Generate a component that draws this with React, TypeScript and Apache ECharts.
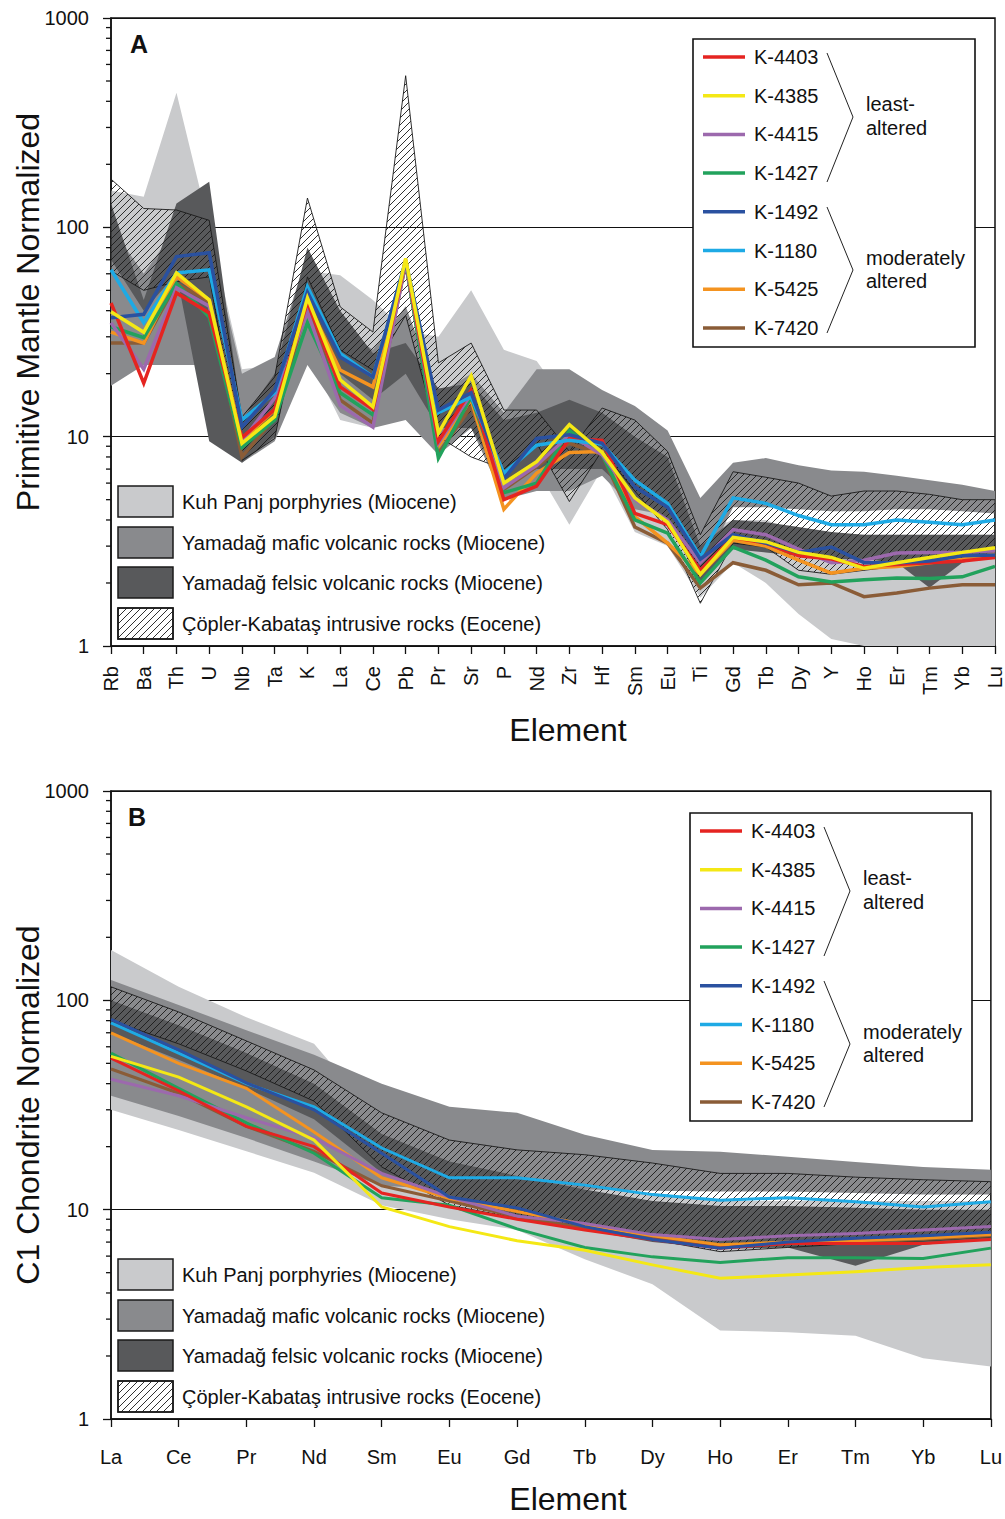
import React, { useEffect, useRef } from 'react';
import * as echarts from 'echarts';

const FONT = "'Liberation Sans', Arial, Helvetica, sans-serif";

// Element orders for the two diagrams
const spiderElements = ['Rb', 'Ba', 'Th', 'U', 'Nb', 'Ta', 'K', 'La', 'Ce', 'Pb', 'Pr', 'Sr', 'P', 'Nd', 'Zr', 'Hf', 'Sm', 'Eu', 'Ti', 'Gd', 'Tb', 'Dy', 'Y', 'Ho', 'Er', 'Tm', 'Yb', 'Lu'];
const reeElements = ['La', 'Ce', 'Pr', 'Nd', 'Sm', 'Eu', 'Gd', 'Tb', 'Dy', 'Ho', 'Er', 'Tm', 'Yb', 'Lu'];

const yTickLabels = ['1', '10', '100', '1000'];
const minorTickValues = [2, 3, 4, 5, 6, 7, 8, 9, 20, 30, 40, 50, 60, 70, 80, 90, 200, 300, 400, 500, 600, 700, 800, 900];

const samples = ['K-4403', 'K-4385', 'K-4415', 'K-1427', 'K-1492', 'K-1180', 'K-5425', 'K-7420'];
const sampleColors = ['#e52421', '#f4e815', '#9c69ad', '#22a25c', '#2a51a0', '#1eaae5', '#f49320', '#8a5c37'];
// later entries are drawn on top
const drawOrder = ['K-7420', 'K-5425', 'K-1427', 'K-4415', 'K-4403', 'K-1180', 'K-1492', 'K-4385'];

// Primitive-mantle normalized samples (A)
const pmK4403 = [43.5, 18, 48.6, 39, 9.9, 13.5, 44, 17.3, 13.5, 70, 9.5, 16.7, 5.0, 5.8, 9.8, 9.6, 4.3, 3.8, 2.3, 3.3, 3.1, 2.7, 2.6, 2.4, 2.45, 2.5, 2.55, 2.65];
const pmK4385 = [39.5, 31.5, 60.5, 45, 9.3, 12.5, 46, 18.7, 13.9, 71, 10.4, 19.5, 6.0, 7.6, 11.4, 8.4, 5.1, 3.9, 2.2, 3.3, 3.15, 2.8, 2.65, 2.35, 2.5, 2.65, 2.8, 2.95];
const pmK4415 = [35, 21, 51.5, 42, 9.5, 15.3, 39.5, 14.1, 11.1, 68, 9.3, 16, 5.7, 7.3, 10.2, 8.2, 5.0, 4.0, 2.5, 3.6, 3.4, 2.9, 2.5, 2.57, 2.78, 2.8, 2.8, 2.85];
const pmK1427 = [33.5, 29.7, 54, 37.3, 8.9, 12, 35, 16.2, 12.7, 68, 7.9, 15.5, 5.4, 6.0, 10.7, 8.2, 4.0, 3.46, 2.0, 2.97, 2.57, 2.14, 2.02, 2.07, 2.11, 2.1, 2.14, 2.4];
const pmK1492 = [37, 38.4, 72.5, 75.6, 11.1, 16.7, 49, 24, 19.3, 69, 13.4, 16.2, 6.3, 9.8, 10.2, 9.3, 5.75, 4.6, 2.6, 3.4, 3.1, 2.8, 2.97, 2.5, 2.5, 2.55, 2.7, 2.72];
const pmK1180 = [62.7, 35, 60.5, 62.7, 12, 16.2, 52, 25, 19.3, 69, 13, 15.5, 6.7, 9.1, 9.6, 9.2, 6.2, 4.8, 2.67, 5.1, 4.8, 4.2, 3.8, 3.8, 4.0, 3.9, 3.8, 4.0];
const pmK5425 = [31.6, 28, 58, 45, 9.6, 13.4, 44, 20.8, 17.3, 69, 9.0, 15, 4.5, 6.7, 8.4, 8.5, 4.15, 3.1, 2.2, 3.2, 3.0, 2.57, 2.23, 2.35, 2.4, 2.5, 2.6, 2.75];
const pmK7420 = [28, 28, 54, 44, 8.0, 12.3, 41.7, 15, 11.6, 67, 8.3, 13.9, 5.6, 7.2, 9.3, 8.2, 3.7, 3.1, 1.89, 2.5, 2.3, 1.96, 2.0, 1.72, 1.79, 1.89, 1.96, 1.96];

// Chondrite normalized samples (B)
const c1K4403 = [53, 37, 25, 20, 12, 10.3, 9.0, 8.0, 7.2, 6.55, 6.9, 6.9, 6.9, 7.2];
const c1K4385 = [54, 43, 31, 21.5, 10.3, 8.3, 7.1, 6.4, 5.45, 4.7, 4.87, 5.05, 5.3, 5.45];
const c1K4415 = [42, 35, 27.5, 22, 14.9, 11.5, 9.3, 8.6, 7.6, 7.2, 7.5, 7.7, 8.0, 8.3];
const c1K1427 = [56, 38, 26, 18.6, 11.4, 10.5, 8.1, 6.6, 5.95, 5.6, 5.9, 5.9, 5.85, 6.55];
const c1K1492 = [81, 58, 40.3, 30, 18.6, 11.5, 10.2, 8.3, 7.2, 6.55, 7.0, 7.3, 7.5, 7.8];
const c1K1180 = [78, 56, 40, 31, 19.7, 14.2, 14.2, 13.1, 11.8, 11.1, 11.4, 10.9, 10.3, 10.9];
const c1K5425 = [70, 50, 38, 23.5, 14.2, 11.3, 9.8, 8.5, 7.5, 6.8, 7.0, 7.1, 7.3, 7.6];
const c1K7420 = [47, 36, 25, 19, 13, 11, 9.2, 8.2, 7.3, 6.7, 6.9, 7.0, 7.2, 7.5];

// Comparison fields, primitive-mantle normalized (A)
const pmKuhPanjUpper = [150, 140, 440, 100, 21, 22, 62, 59, 45, 32, 30, 50, 26, 23, 14, 13, 10, 8, 3.5, 4.0, 4.0, 3.5, 3.3, 3.4, 3.4, 3.4, 3.4, 3.4];
const pmKuhPanjLower = [25, 22, 25, 25, 8, 10, 25, 12, 11, 15, 9, 12, 5.5, 7, 3.8, 7, 3.5, 3.0, 1.7, 2.5, 2.0, 1.42, 1.08, 1.0, 1.0, 1.0, 1.0, 1.0];
const pmMaficUpper = [100, 60, 100, 90, 20, 24, 75, 33, 26, 42, 16, 20, 13, 21, 21, 16.7, 14, 10.7, 5.1, 7.5, 7.9, 7.3, 6.9, 6.8, 6.5, 6.2, 5.9, 5.5];
const pmMaficLower = [17.5, 22, 22, 22, 7.5, 9.5, 22, 13, 11, 12, 8.2, 11, 5.0, 5.5, 5.5, 6.5, 4.5, 4.2, 2.2, 4.6, 4.6, 4.5, 4.4, 4.4, 4.5, 4.5, 4.4, 4.3];
const pmFelsicUpper = [130, 45, 130, 165, 12, 20, 80, 40, 25, 28, 17, 18, 12, 13, 15, 13, 10, 8, 3.0, 4.0, 3.9, 3.7, 3.5, 3.4, 3.4, 3.4, 3.4, 3.4];
const pmFelsicLower = [70, 40, 60, 9.5, 7.5, 10, 45, 20, 15, 20, 11, 11, 6, 7, 7, 7, 5, 4, 2.0, 2.9, 2.8, 2.7, 2.6, 2.6, 2.5, 1.9, 2.5, 2.7];
const pmCoplerUpper = [170, 123, 121, 108, 12.4, 19.3, 138, 41.7, 31.6, 530, 22.5, 28, 13.4, 13.4, 8.5, 13.7, 12, 8.5, 3.4, 6.8, 6.4, 6.0, 5.2, 5.5, 5.5, 5.3, 5.0, 5.0];
const pmCoplerLower = [62, 50, 55, 58, 7.7, 9.8, 58, 26, 20.8, 38, 10, 8, 7, 9.3, 4.9, 8.6, 5.5, 3.6, 1.6, 3.1, 2.97, 2.3, 2.2, 2.3, 2.4, 2.5, 2.57, 2.66];

// Comparison fields, chondrite normalized (B)
const c1KuhPanjUpper = [174, 116, 83, 62, 26, 18, 15, 13, 12, 11, 11, 11, 11, 11];
const c1KuhPanjLower = [30, 24, 19, 15, 10.5, 9, 8, 5.8, 4.4, 2.65, 2.6, 2.5, 1.95, 1.78];
const c1MaficUpper = [125, 95, 72, 55, 40, 31, 29, 22.8, 19.3, 18.9, 17.9, 16.9, 16.0, 15.5];
const c1MaficLower = [35, 28, 22, 17, 13, 12.5, 12.5, 12.5, 12.3, 12.2, 12.2, 12, 11.8, 11.8];
const c1FelsicUpper = [100, 76, 56, 40, 23, 17, 14.5, 12.5, 11.0, 10.4, 10.4, 10.2, 10.0, 10.0];
const c1FelsicLower = [70, 52, 38, 27, 15, 11, 9.2, 8.0, 7.0, 6.5, 6.6, 5.4, 6.8, 7.2];
const c1CoplerUpper = [116, 88, 64, 46.5, 29, 21.5, 19.3, 18.3, 16.7, 14.9, 14.9, 14.3, 13.9, 13.6];
const c1CoplerLower = [80, 62, 46, 33, 16, 10.5, 9.1, 8.3, 7.2, 6.3, 6.6, 6.9, 7.1, 7.4];

const groupNames = [
  'Kuh Panj porphyries (Miocene)',
  'Yamadağ mafic volcanic rocks (Miocene)',
  'Yamadağ felsic volcanic rocks (Miocene)',
  'Çöpler-Kabataş intrusive rocks (Eocene)',
];

const pmSeries: Record<string, number[]> = {
  'K-4403': pmK4403, 'K-4385': pmK4385, 'K-4415': pmK4415, 'K-1427': pmK1427,
  'K-1492': pmK1492, 'K-1180': pmK1180, 'K-5425': pmK5425, 'K-7420': pmK7420,
};
const c1Series: Record<string, number[]> = {
  'K-4403': c1K4403, 'K-4385': c1K4385, 'K-4415': c1K4415, 'K-1427': c1K1427,
  'K-1492': c1K1492, 'K-1180': c1K1180, 'K-5425': c1K5425, 'K-7420': c1K7420,
};

const LIGHT = '#c9cacc';
const MID = '#898a8d';
const DARK = '#58595b';

const hatchUrl =
  'data:image/svg+xml;charset=utf-8,' +
  encodeURIComponent(
    '<svg xmlns="http://www.w3.org/2000/svg" width="7" height="7"><path d="M-1,1 L1,-1 M0,7 L7,0 M6,8 L8,6" stroke="#1a1a1a" stroke-width="0.9"/></svg>'
  );
const hatchFill: any = { image: hatchUrl, repeat: 'repeat', imageWidth: 7, imageHeight: 7 };

function bandSeries(name: string, grid: number, lower: number[], upper: number[], style: any, z: number) {
  return {
    type: 'custom',
    name,
    xAxisIndex: grid,
    yAxisIndex: grid,
    clip: true,
    silent: true,
    z,
    data: [[0, 10]],
    renderItem: (_params: any, api: any) => {
      const pts: number[][] = [];
      for (let i = 0; i < upper.length; i++) pts.push(api.coord([i, upper[i]]));
      for (let i = lower.length - 1; i >= 0; i--) pts.push(api.coord([i, lower[i]]));
      return { type: 'polygon', shape: { points: pts }, style };
    },
  };
}

function minorTicks(grid: number) {
  return {
    type: 'custom',
    xAxisIndex: grid,
    yAxisIndex: grid,
    clip: false,
    silent: true,
    z: 6,
    data: minorTickValues.map((v) => [0, v]),
    renderItem: (params: any, api: any) => {
      const y = api.coord([0, api.value(1)])[1];
      const x0 = params.coordSys.x;
      return { type: 'line', shape: { x1: x0 - 5, y1: y, x2: x0, y2: y }, style: { stroke: '#111', lineWidth: 1.3 } };
    },
  };
}

function lineSeries(grid: number, table: Record<string, number[]>, width: number) {
  return drawOrder.map((s) => ({
    type: 'line',
    name: s,
    xAxisIndex: grid,
    yAxisIndex: grid,
    data: table[s],
    symbol: 'none',
    z: 4,
    lineStyle: { color: sampleColors[samples.indexOf(s)], width, join: 'miter' },
    silent: true,
  }));
}

function sampleLegend(dx: number, dy: number) {
  const els: any[] = [];
  els.push({ type: 'rect', z: 100, shape: { x: 693 + dx, y: 39 + dy, width: 282, height: 308 }, style: { fill: '#fff', stroke: '#111', lineWidth: 1.6 } });
  samples.forEach((s, k) => {
    const y = 57 + k * 38.7 + dy;
    els.push({ type: 'line', z: 101, shape: { x1: 703 + dx, y1: y, x2: 745 + dx, y2: y }, style: { stroke: sampleColors[k], lineWidth: 3.5 } });
    els.push({ type: 'text', z: 101, x: 754 + dx, y, style: { text: s, fill: '#111', font: `20px ${FONT}`, textVerticalAlign: 'middle' } });
  });
  els.push({ type: 'polyline', z: 101, shape: { points: [[827 + dx, 53 + dy], [853 + dx, 117 + dy], [827 + dx, 182 + dy]] }, style: { stroke: '#222', lineWidth: 1, fill: 'none' } });
  els.push({ type: 'polyline', z: 101, shape: { points: [[827 + dx, 207 + dy], [853 + dx, 270 + dy], [827 + dx, 333 + dy]] }, style: { stroke: '#222', lineWidth: 1, fill: 'none' } });
  const labels: [string, number][] = [['least-', 104], ['altered', 128], ['moderately', 258], ['altered', 281]];
  labels.forEach(([t, y]) => {
    els.push({ type: 'text', z: 101, x: 866 + dx, y: y + dy, style: { text: t, fill: '#111', font: `20px ${FONT}`, textVerticalAlign: 'middle' } });
  });
  return els;
}

function groupLegend(dy: number) {
  const els: any[] = [];
  const tops = [486, 527, 567, 608];
  const fills = [LIGHT, MID, DARK, '#fff'];
  tops.forEach((t, k) => {
    els.push({ type: 'rect', z: 100, shape: { x: 118, y: t + dy, width: 55, height: 31 }, style: { fill: fills[k], stroke: '#1a1a1a', lineWidth: 1.5 } });
    if (k === 3) {
      els.push({ type: 'rect', z: 101, shape: { x: 118, y: t + dy, width: 55, height: 31 }, style: { fill: hatchFill, stroke: '#1a1a1a', lineWidth: 1.5 } });
    }
    els.push({ type: 'text', z: 101, x: 182, y: t + dy + 15.5, style: { text: groupNames[k], fill: '#111', font: `20px ${FONT}`, textVerticalAlign: 'middle' } });
  });
  return els;
}

function yAxisCfg(grid: number) {
  return {
    type: 'log',
    gridIndex: grid,
    logBase: 10,
    min: 1,
    max: 1000,
    axisLine: { show: true, lineStyle: { color: '#111', width: 1.5 } },
    axisTick: { show: true, length: 8, lineStyle: { color: '#111', width: 1.3 } },
    axisLabel: {
      margin: 22,
      fontSize: 20,
      fontFamily: FONT,
      color: '#111',
      formatter: (v: number) => yTickLabels[Math.round(Math.log10(v))] ?? String(v),
    },
    splitLine: { show: true, lineStyle: { color: '#111', width: 1 } },
    minorTick: { show: false },
  };
}

function xAxisCfg(grid: number, data: string[], rotate: number, margin: number) {
  return {
    type: 'category',
    gridIndex: grid,
    data,
    boundaryGap: false,
    axisLine: { show: true, lineStyle: { color: '#111', width: 1.5 } },
    axisTick: { show: true, length: 8, interval: 0, lineStyle: { color: '#111', width: 1.3 } },
    axisLabel: { interval: 0, rotate, margin, fontSize: 20, fontFamily: FONT, color: '#111' },
    splitLine: { show: false },
  };
}

export default function App() {
  const ref = useRef<HTMLDivElement>(null);

  useEffect(() => {
    if (!ref.current) return;
    const chart = echarts.init(ref.current, null, { renderer: 'svg' });

    const series: any[] = [
      bandSeries('Kuh Panj A', 0, pmKuhPanjLower, pmKuhPanjUpper, { fill: LIGHT }, 1),
      bandSeries('Mafic A', 0, pmMaficLower, pmMaficUpper, { fill: MID }, 1),
      bandSeries('Felsic A', 0, pmFelsicLower, pmFelsicUpper, { fill: DARK }, 1),
      bandSeries('Copler A', 0, pmCoplerLower, pmCoplerUpper, { fill: hatchFill, stroke: '#1a1a1a', lineWidth: 0.9 }, 2),
      ...lineSeries(0, pmSeries, 3.5),
      minorTicks(0),
      bandSeries('Kuh Panj B', 1, c1KuhPanjLower, c1KuhPanjUpper, { fill: LIGHT }, 1),
      bandSeries('Mafic B', 1, c1MaficLower, c1MaficUpper, { fill: MID }, 1),
      bandSeries('Felsic B', 1, c1FelsicLower, c1FelsicUpper, { fill: DARK }, 1),
      bandSeries('Copler B', 1, c1CoplerLower, c1CoplerUpper, { fill: hatchFill, stroke: '#1a1a1a', lineWidth: 0.9 }, 2),
      ...lineSeries(1, c1Series, 3),
      minorTicks(1),
    ];

    const titleStyle = (text: string, size: number, bold = false) => ({
      text,
      fill: '#111',
      font: `${bold ? 'bold ' : ''}${size}px ${FONT}`,
      textAlign: 'center',
      textVerticalAlign: 'middle',
    });

    const graphic: any[] = [
      { type: 'text', z: 100, x: 139, y: 44, style: titleStyle('A', 25, true) },
      { type: 'text', z: 100, x: 137, y: 817, style: titleStyle('B', 25, true) },
      { type: 'text', z: 100, x: 28, y: 312, rotation: Math.PI / 2, style: titleStyle('Primitive Mantle Normalized', 32) },
      { type: 'text', z: 100, x: 28, y: 1105, rotation: Math.PI / 2, style: titleStyle('C1 Chondrite Normalized', 32) },
      { type: 'text', z: 100, x: 568, y: 730, style: titleStyle('Element', 32) },
      { type: 'text', z: 100, x: 568, y: 1499, style: titleStyle('Element', 32) },
      ...sampleLegend(0, 0),
      ...sampleLegend(-3, 774),
      ...groupLegend(0),
      ...groupLegend(773),
    ];

    chart.setOption({
      animation: false,
      backgroundColor: '#fff',
      grid: [
        { left: 111, top: 18, width: 884, height: 628, show: true, borderColor: '#111', borderWidth: 1.5, backgroundColor: 'transparent' },
        { left: 111, top: 791, width: 884, height: 628, show: true, borderColor: '#111', borderWidth: 1.5, backgroundColor: 'transparent' },
      ],
      xAxis: [xAxisCfg(0, spiderElements, 90, 20), xAxisCfg(1, reeElements, 0, 28)],
      yAxis: [yAxisCfg(0), yAxisCfg(1)],
      series,
      graphic,
    });

    return () => chart.dispose();
  }, []);

  return (
    <div
      ref={ref}
      style={{ position: 'absolute', left: 0, top: 0, width: 1005, height: 1519, background: '#fff' }}
    />
  );
}
